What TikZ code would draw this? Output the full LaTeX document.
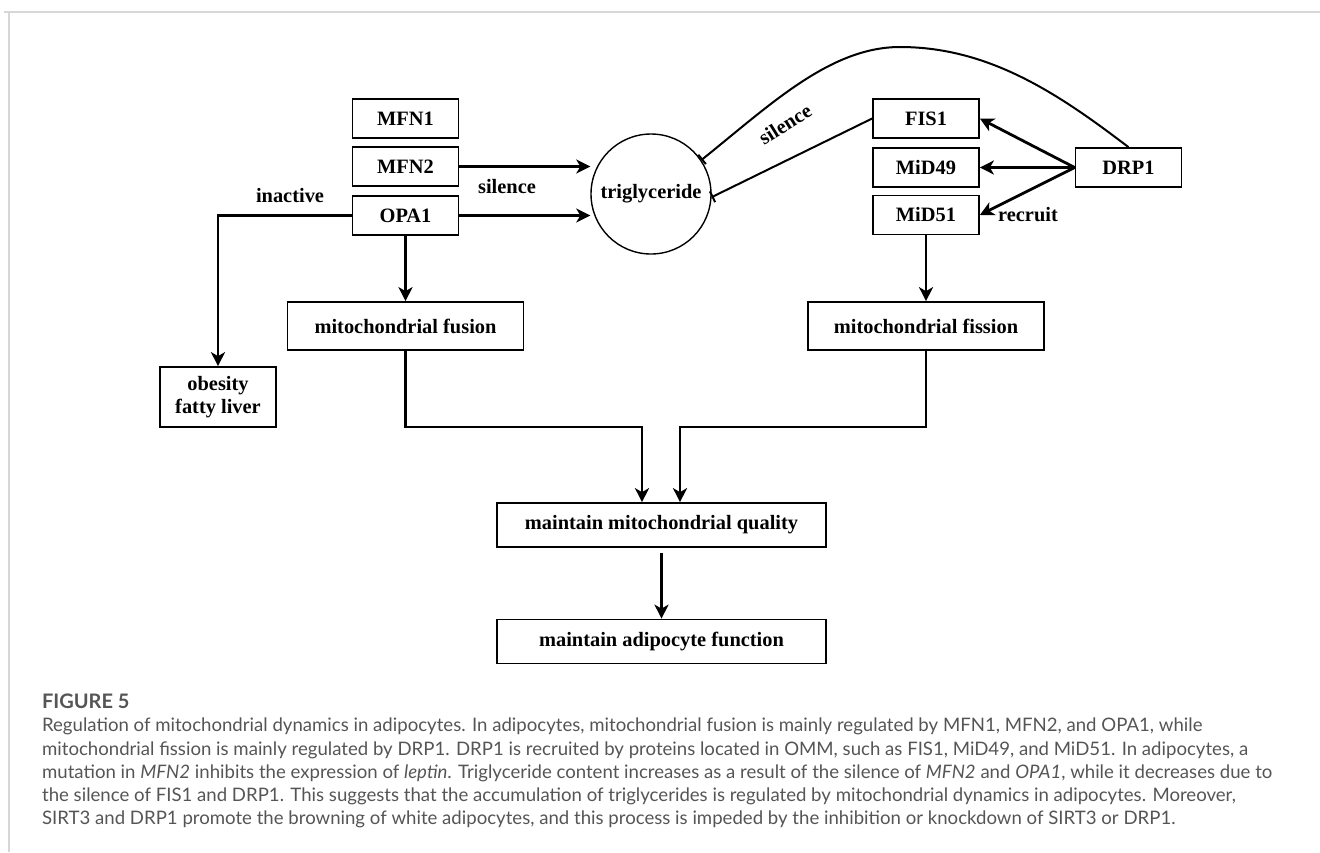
\documentclass[tikz,border=0pt]{standalone}
\usepackage{fontspec}
\setmainfont{Liberation Serif}
\newfontfamily\capfont{Lato}
\usetikzlibrary{arrows.meta}
\definecolor{CapGray}{RGB}{85,85,85}
\definecolor{FrameGray}{RGB}{215,215,215}
\tikzset{
	box/.style={draw=black,line width=0.85pt,fill=white,inner sep=2pt,align=center,
		font=\bfseries\fontsize{10.2}{11.5}\selectfont},
	smallbox/.style={box,minimum width=53pt,minimum height=19.5pt},
	midbox/.style={box,minimum width=118pt,minimum height=24pt},
	bigbox/.style={box,minimum width=164.5pt,minimum height=22pt},
	arr/.style={-{Stealth[length=7pt,width=7pt,inset=2pt]},line width=1.4pt},
	inhib/.style={-{Bar[width=6pt,line width=1pt]},line width=1pt},
	lbl/.style={font=\bfseries\fontsize{10.2}{11.5}\selectfont},
	captxt/.style={anchor=base west,inner sep=0pt,text=CapGray,
		font=\capfont\fontsize{9.3}{11}\selectfont},
}

\begin{document}
\begin{tikzpicture}[x=0.5pt,y=-0.5pt]
	\useasboundingbox (0,0) rectangle (1320,852);
	\draw[FrameGray,line width=0.8pt] (4,12) -- (1320,12);
	\draw[FrameGray,line width=0.8pt] (9,12) -- (9,852);
	% fusion side
	\node[smallbox] (mfn1) at (405.5,118.5) {MFN1};
	\node[smallbox] (mfn2) at (405.5,166.5) {MFN2};
	\node[smallbox] (opa1) at (405.5,215.5) {OPA1};
	\node[circle,draw,line width=0.7pt,minimum size=60pt,inner sep=0pt,lbl] (tg) at (651,194) {triglyceride};
	% fission side
	\node[smallbox] (fis1) at (926,118.5) {FIS1};
	\node[smallbox] (mid49) at (926,167.5) {MiD49};
	\node[smallbox] (mid51) at (926,215) {MiD51};
	\node[smallbox] (drp1) at (1128.5,167.5) {DRP1};
	\node[box,minimum width=58pt,minimum height=30pt] (obes) at (218,397) {obesity\\fatty liver};
	\node[midbox] (fusion) at (405.5,326) {mitochondrial fusion};
	\node[midbox] (fission) at (926,326) {mitochondrial fission};
	\node[bigbox] (quality) at (661.5,525) {maintain mitochondrial quality};
	\node[bigbox] (function) at (661.5,641.5) {maintain adipocyte function};
	% labels
	\node[lbl] (sil1) at (507,187) {silence};
	\node[lbl,rotate=32] (sil2) at (785,124) {silence};
	\node[lbl] (inact) at (290,196) {inactive};
	\node[lbl] (recr) at (1028,215) {recruit};
	% connectors
	\draw[arr] (mfn2.east) -- (mfn2.east -| tg.west);
	\draw[arr] (opa1.east) -- (opa1.east -| tg.west);
	\draw[inhib] (fis1.west) -- (tg.-3);
	\draw[inhib] (drp1.north) .. controls (1060,95) and (990,47) .. (900,47)
		.. controls (830,47) and (770,105) .. (tg.34);
	\draw[arr] (drp1.west) -- (fis1.east);
	\draw[arr] (drp1.west) -- (mid49.east);
	\draw[arr] (drp1.west) -- (mid51.east);
	\draw[arr] (opa1.west) -| (obes.north);
	\draw[arr] (opa1.south) -- (opa1.south |- fusion.north);
	\draw[arr] (mid51.south) -- (mid51.south |- fission.north);
	\coordinate (jl) at (642,427);
	\coordinate (jr) at (680,427);
	\draw[arr] (fusion.south) |- (jl) -- (jl |- quality.north);
	\draw[arr] (fission.south) |- (jr) -- (jr |- quality.north);
	\draw[arr] ([yshift=-2.5pt]quality.south) -- (function.north);
	% caption
	\node[captxt,font=\capfont\bfseries\fontsize{10}{12}\selectfont] (fig) at (41.7,708) {FIGURE 5};
	\node[captxt] (cap1) at (41.7,731.7) {Regulation of mitochondrial dynamics in adipocytes. In adipocytes, mitochondrial fusion is mainly regulated by MFN1, MFN2, and OPA1, while};
	\node[captxt] (cap2) at (41.7,755) {mitochondrial fission is mainly regulated by DRP1. DRP1 is recruited by proteins located in OMM, such as FIS1, MiD49, and MiD51. In adipocytes, a};
	\node[captxt] (cap3) at (41.7,778) {mutation in \textit{MFN2} inhibits the expression of \textit{leptin}. Triglyceride content increases as a result of the silence of \textit{MFN2} and \textit{OPA1}, while it decreases due to};
	\node[captxt] (cap4) at (41.7,801) {the silence of FIS1 and DRP1. This suggests that the accumulation of triglycerides is regulated by mitochondrial dynamics in adipocytes. Moreover,};
	\node[captxt] (cap5) at (41.7,824) {SIRT3 and DRP1 promote the browning of white adipocytes, and this process is impeded by the inhibition or knockdown of SIRT3 or DRP1.};
\end{tikzpicture}
\end{document}
